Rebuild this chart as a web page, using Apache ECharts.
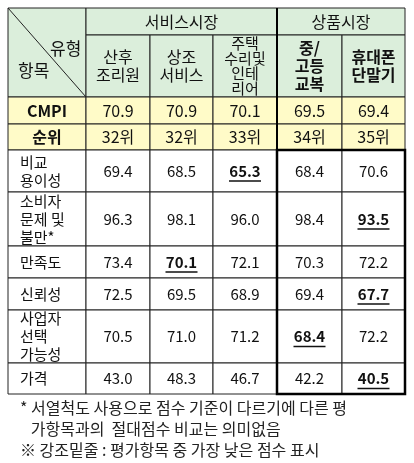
<!DOCTYPE html><html><head><meta charset="utf-8">
<script src="https://cdn.jsdelivr.net/npm/echarts@6/dist/echarts.min.js"></script>
<style>html,body{margin:0;padding:0;background:#fff}#c{width:414px;height:463px}</style></head><body><div id="c"></div><script>
const groups=['서비스시장','상품시장'];
const categories=['산후\n조리원','상조\n서비스','주택\n수리및\n인테\n리어','중/\n고등\n교복','휴대폰\n단말기'];
const summaryLabels=['CMPI','순위'];
const cmpi=[70.9,70.9,70.1,69.5,69.4];
const rank=['32위','32위','33위','34위','35위'];
const rowLabels=['비교\n용이성','소비자\n문제 및\n불만*','만족도','신뢰성','사업자\n선택\n가능성','가격'];
const scores=[[69.4,68.5,65.3,68.4,70.6],[96.3,98.1,96.0,98.4,93.5],[73.4,70.1,72.1,70.3,72.2],[72.5,69.5,68.9,69.4,67.7],[70.5,71.0,71.2,68.4,72.2],[43.0,48.3,46.7,42.2,40.5]];
const lowest=[2,4,1,4,3,4];
const notes=['* 서열척도 사용으로 점수 기준이 다르기에 다른 평','   가항목과의  절대점수 비교는 의미없음','※ 강조밑줄 : 평가항목 중 가장 낮은 점수 표시'];

const X=[8,86,150,213,277,342,405];
const Y=[8,35,97,124,150,192,246,278,310,363,394];
const GREEN='#dbeedb',YEL='#fffbc8',F='"Noto Sans CJK KR","Noto Sans",sans-serif';
const cells=[];
function cell(c0,c1,r0,r1,text,fill,opt){cells.push([X[c0],X[c1],Y[r0],Y[r1],text,fill,opt||{}]);}
cell(0,1,0,2,'',GREEN,{diag:true});
cell(1,4,0,1,groups[0],GREEN,{fs:16});
cell(4,6,0,1,groups[1],GREEN,{fs:16});
categories.forEach((t,i)=>cell(i+1,i+2,1,2,t,GREEN,{bold:i>=3,lh:i==2?15:18,fs:i==2?15:16}));
summaryLabels.forEach((t,r)=>cell(0,1,2+r,3+r,t,YEL,{bold:true,fs:16}));
cmpi.forEach((v,i)=>cell(i+1,i+2,2,3,v.toFixed(1),YEL,{fs:16}));
rank.forEach((v,i)=>cell(i+1,i+2,3,4,v,YEL,{fs:16}));
rowLabels.forEach((t,r)=>{cell(0,1,4+r,5+r,t,'#fff',{left:true});
 scores[r].forEach((v,i)=>cell(i+1,i+2,4+r,5+r,v.toFixed(1),'#fff',{bold:lowest[r]===i,ul:lowest[r]===i}));});

const chart=echarts.init(document.getElementById('c'));
chart.setOption({animation:false,
 grid:{left:0,top:0,right:0,bottom:0},
 xAxis:{type:'value',min:0,max:414,show:false},
 yAxis:{type:'value',min:0,max:463,inverse:true,show:false},
 series:[{type:'custom',coordinateSystem:'cartesian2d',data:cells,
  renderItem:(p,api)=>{const d=cells[p.dataIndex];const a=api.coord([d[0],d[2]]),b=api.coord([d[1],d[3]]);const o=d[6];
   const ch=[{type:'rect',shape:{x:a[0],y:a[1],width:b[0]-a[0],height:b[1]-a[1]},style:{fill:d[5],stroke:'#222',lineWidth:1}}];
   const cx=o.left?a[0]+12:(a[0]+b[0])/2,cy=(a[1]+b[1])/2;
   if(d[4])ch.push({type:'text',x:cx,y:cy,style:{text:d[4],font:(o.bold?'bold ':'')+(o.fs||15)+'px '+F,fill:'#111',align:o.left?'left':'center',verticalAlign:'middle',lineHeight:o.lh||18}});
   if(o.ul)ch.push({type:'line',shape:{x1:cx-16,y1:cy+10,x2:cx+16,y2:cy+10},style:{stroke:'#111',lineWidth:1.5}});
   if(o.diag){ch.push({type:'line',shape:{x1:a[0],y1:a[1],x2:b[0],y2:b[1]},style:{stroke:'#222',lineWidth:1}});
    ch.push({type:'text',x:a[0]+42,y:a[1]+32,style:{text:'유형',font:'17px '+F,fill:'#111'}});
    ch.push({type:'text',x:a[0]+10,y:a[1]+54,style:{text:'항목',font:'17px '+F,fill:'#111'}});}
   return {type:'group',children:ch};}},
 {type:'custom',coordinateSystem:'cartesian2d',data:[[X[4],X[6],Y[4],Y[10]]],
  renderItem:(p,api)=>{const a=api.coord([X[4],Y[4]]),b=api.coord([X[6],Y[10]]);return {type:'rect',shape:{x:a[0],y:a[1],width:b[0]-a[0],height:b[1]-a[1]},style:{fill:'none',stroke:'#000',lineWidth:2.5}};}},
 {type:'custom',coordinateSystem:'cartesian2d',data:[[X[4],X[6],Y[0],Y[10]]],
  renderItem:(p,api)=>{const a=api.coord([X[4],Y[0]]),b=api.coord([X[4],Y[4]]);return {type:'line',shape:{x1:a[0],y1:a[1],x2:b[0],y2:b[1]},style:{stroke:'#000',lineWidth:2}};}}
 ],
 graphic:notes.map((t,i)=>({type:'text',left:20,top:400+i*21,style:{text:t,font:'16px '+F,fill:'#222'}}))
});
</script></body></html>
